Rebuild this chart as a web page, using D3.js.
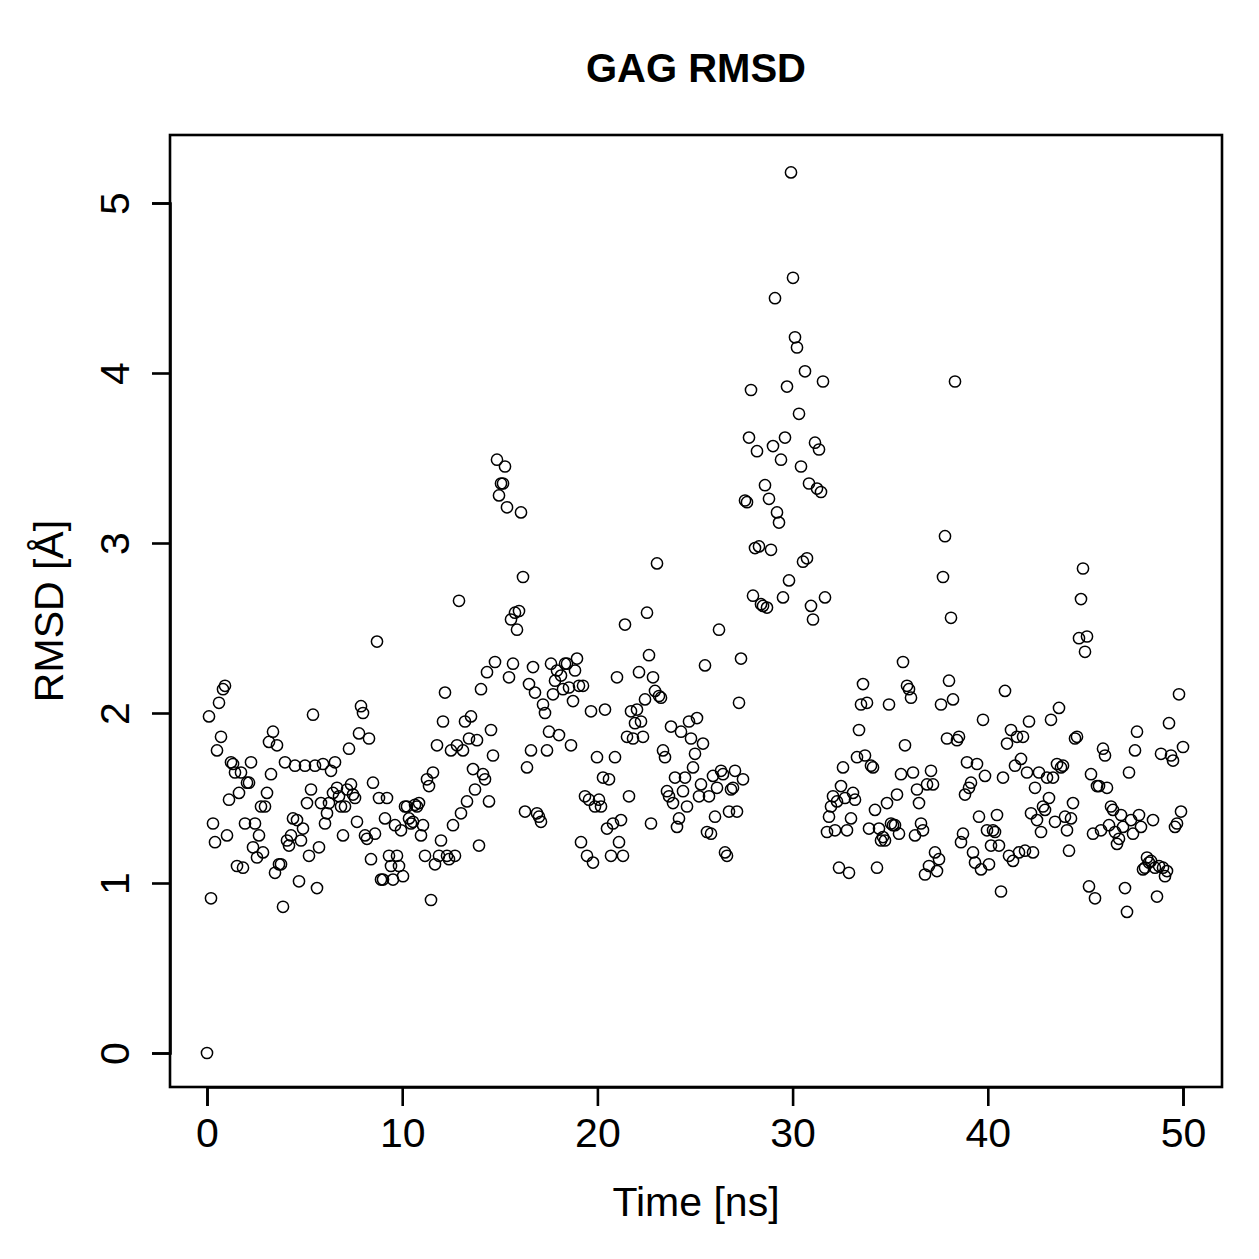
<!DOCTYPE html>
<html><head><meta charset="utf-8">
<script src="https://cdn.jsdelivr.net/npm/d3@7"></script>
<style>body{margin:0;background:#fff}svg{display:block}</style>
</head><body>
<script>
const title = "GAG RMSD";
const xLabel = "Time [ns]";
const yLabel = "RMSD [Å]";
const xTicks = [0, 10, 20, 30, 40, 50];
const yTicks = [0, 1, 2, 3, 4, 5];
const timeStart = 0, timeEnd = 50;
const rmsd = [
0,1.98,0.91,1.35,1.24,1.78,2.06,1.86,2.14,2.16,1.28,1.49,1.71,1.70,1.65,1.10,1.53,1.65,1.09,1.35,
1.59,1.59,1.71,1.21,1.35,1.15,1.28,1.45,1.18,1.45,1.53,1.83,1.64,1.89,1.06,1.81,1.11,1.11,0.86,1.71,
1.25,1.22,1.28,1.38,1.69,1.37,1.01,1.25,1.32,1.69,1.47,1.16,1.55,1.99,1.69,0.97,1.21,1.47,1.70,1.35,
1.41,1.47,1.66,1.53,1.71,1.56,1.51,1.45,1.28,1.45,1.55,1.79,1.58,1.52,1.50,1.36,1.88,2.04,2.00,1.28,
1.26,1.85,1.14,1.59,1.29,2.42,1.50,1.02,1.02,1.38,1.50,1.16,1.10,1.02,1.34,1.16,1.10,1.31,1.04,1.45,
1.45,1.38,1.35,1.36,1.46,1.45,1.47,1.28,1.34,1.16,1.61,1.57,0.90,1.65,1.11,1.81,1.16,1.25,1.95,2.12,
1.16,1.14,1.78,1.34,1.16,1.81,2.66,1.41,1.78,1.95,1.48,1.85,1.98,1.67,1.55,1.84,1.22,2.14,1.64,1.61,
2.24,1.48,1.90,1.75,2.30,3.49,3.28,3.35,3.35,3.45,3.21,2.21,2.55,2.29,2.59,2.49,2.60,3.18,2.80,1.42,
1.68,2.17,1.78,2.27,2.12,1.41,1.39,1.36,2.05,2.00,1.78,1.89,2.29,2.11,2.19,2.25,1.87,2.22,2.14,2.29,
2.29,2.15,1.81,2.07,2.25,2.32,2.16,1.24,2.16,1.51,1.16,1.49,2.01,1.12,1.45,1.74,1.49,1.45,1.62,2.02,
1.32,1.61,1.16,1.35,1.74,2.21,1.24,1.37,1.16,2.52,1.86,1.51,2.01,1.85,1.94,2.02,2.24,1.95,1.86,2.08,
2.59,2.34,1.35,2.21,2.13,2.88,2.10,2.09,1.78,1.74,1.54,1.51,1.92,1.47,1.62,1.33,1.38,1.89,1.54,1.62,
1.45,1.95,1.85,1.68,1.76,1.97,1.51,1.58,1.82,2.28,1.30,1.51,1.29,1.63,1.39,1.56,2.49,1.66,1.64,1.18,
1.16,1.42,1.55,1.56,1.66,1.42,2.06,2.32,1.61,3.25,3.24,3.62,3.90,2.69,2.97,3.54,2.98,2.64,2.63,3.34,
2.62,3.26,2.96,3.57,4.44,3.18,3.12,3.49,2.68,3.62,3.92,2.78,5.18,4.56,4.21,4.15,3.76,3.45,2.89,4.01,
2.91,3.35,2.63,2.55,3.59,3.32,3.55,3.30,3.95,2.68,1.30,1.39,1.45,1.51,1.31,1.48,1.09,1.57,1.68,1.50,
1.31,1.06,1.38,1.53,1.49,1.74,1.90,2.05,2.17,1.75,2.06,1.32,1.69,1.68,1.43,1.09,1.32,1.25,1.27,1.25,
1.47,2.05,1.35,1.34,1.34,1.52,1.29,1.64,2.30,1.81,2.16,2.14,2.09,1.65,1.28,1.55,1.47,1.35,1.31,1.05,
1.58,1.10,1.66,1.58,1.18,1.07,1.14,2.05,2.80,3.04,1.85,2.19,2.56,2.08,3.95,1.84,1.86,1.24,1.29,1.52,
1.71,1.56,1.59,1.18,1.12,1.70,1.39,1.08,1.96,1.63,1.31,1.11,1.22,1.31,1.30,1.40,1.22,0.95,1.62,2.13,
1.82,1.16,1.90,1.13,1.69,1.86,1.18,1.73,1.86,1.19,1.65,1.95,1.41,1.18,1.56,1.37,1.65,1.30,1.45,1.43,
1.62,1.50,1.96,1.62,1.36,1.70,2.03,1.68,1.69,1.39,1.31,1.19,1.38,1.47,1.85,1.86,2.44,2.67,2.85,2.36,
2.45,0.98,1.64,1.29,0.91,1.57,1.57,1.31,1.79,1.75,1.56,1.34,1.45,1.43,1.30,1.23,1.26,1.40,1.33,0.97,
0.83,1.65,1.37,1.29,1.78,1.89,1.40,1.33,1.08,1.09,1.15,1.12,1.13,1.37,1.09,0.92,1.10,1.76,1.09,1.04,
1.07,1.94,1.75,1.72,1.33,1.35,2.11,1.42,1.80
];
const dt = (timeEnd - timeStart) / (rmsd.length - 1);
const data = rmsd.map((v, i) => ({t: timeStart + i * dt, v}));

const W = 1259, H = 1259;
const box = {left: 170, right: 1222, top: 135, bottom: 1087};
const svg = d3.select("body").append("svg").attr("width", W).attr("height", H);
const font = "'Liberation Sans', Arial, Helvetica, sans-serif";
const fs = 41;

const x = d3.scaleLinear().domain([0, 50]).range([207, 1183]);
const y = d3.scaleLinear().domain([0, 5]).range([1053, 203]);

svg.append("rect").attr("x", box.left).attr("y", box.top)
  .attr("width", box.right - box.left).attr("height", box.bottom - box.top)
  .attr("fill", "none").attr("stroke", "#000").attr("stroke-width", 2.6);

const xAxis = svg.append("g").attr("transform", `translate(0,${box.bottom})`)
  .call(d3.axisBottom(x).tickValues(xTicks).tickSize(19).tickPadding(12).tickFormat(d3.format("d")));
const yAxis = svg.append("g").attr("transform", `translate(${box.left},0)`)
  .call(d3.axisLeft(y).tickValues(yTicks).tickSize(18).tickFormat(d3.format("d")));
[xAxis, yAxis].forEach(g => {
  g.select(".domain").attr("stroke-width", 2.6);
  g.selectAll(".tick line").attr("stroke-width", 2.6);
  g.selectAll("text").attr("font-family", font).attr("font-size", fs).attr("fill", "#000");
});
xAxis.selectAll(".tick text").attr("dy", "0.71em");
yAxis.selectAll(".tick text")
  .attr("text-anchor", "middle").attr("x", null)
  .attr("transform", `translate(-55,0) rotate(-90)`)
  .attr("y", 0).attr("dy", "0.35em");

svg.append("g").selectAll("circle").data(data).join("circle")
  .attr("cx", d => x(d.t)).attr("cy", d => y(d.v)).attr("r", 5.6)
  .attr("fill", "none").attr("stroke", "#000").attr("stroke-width", 1.5);

svg.append("text").attr("x", (box.left + box.right) / 2).attr("y", 82)
  .attr("text-anchor", "middle").attr("font-family", font).attr("font-weight", "bold")
  .attr("font-size", 40).text(title);
svg.append("text").attr("x", (box.left + box.right) / 2).attr("y", 1216)
  .attr("text-anchor", "middle").attr("font-family", font).attr("font-size", fs).text(xLabel);
svg.append("text").attr("transform", `translate(63,${(box.top + box.bottom) / 2}) rotate(-90)`)
  .attr("text-anchor", "middle").attr("font-family", font).attr("font-size", fs).text(yLabel);
</script>
</body></html>
